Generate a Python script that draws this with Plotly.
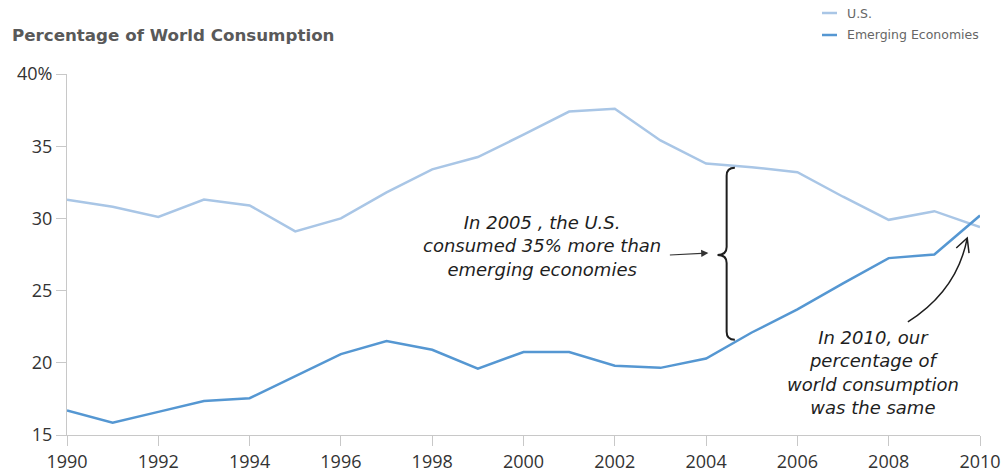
import plotly.graph_objects as go

# ---- data ----
years = list(range(1990, 2011))
us_share = [31.3, 30.8, 30.1, 31.3, 30.9, 29.1, 30.0, 31.8, 33.4, 34.25, 35.8,
            37.4, 37.6, 35.4, 33.8, 33.55, 33.2, 31.5, 29.9, 30.5, 29.4]
emerging_share = [16.7, 15.85, 16.6, 17.35, 17.55, 19.1, 20.6, 21.5, 20.9, 19.6, 20.75,
                  20.75, 19.8, 19.65, 20.3, 22.1, 23.7, 25.5, 27.25, 27.5, 30.2]
series_names = ["U.S.", "Emerging Economies"]
x_ticks = list(range(1990, 2011, 2))
y_ticks = [15, 20, 25, 30, 35, 40]
y_tick_text = ["15", "20", "25", "30", "35", "40%"]

# ---- layout constants (pixels) ----
W, H = 1002, 473
PL, PR, PT, PB = 67, 980, 74, 435

US_COLOR = "#a9c6e6"
EM_COLOR = "#5597d2"
AXIS_COLOR = "#c8c8c8"
INK = "#1e1e1e"
HAND = dict(family="DejaVu Sans, sans-serif", size=18, color=INK, style="italic")


def px_to_paper(px, py):
    return (px - PL) / (PR - PL), (PB - py) / (PB - PT)


fig = go.Figure()
fig.add_trace(go.Scatter(x=years, y=us_share, mode="lines", name=series_names[0],
                         line=dict(color=US_COLOR, width=2.5), cliponaxis=False))
fig.add_trace(go.Scatter(x=years, y=emerging_share, mode="lines", name=series_names[1],
                         line=dict(color=EM_COLOR, width=2.5), cliponaxis=False))

shapes = []
annotations = []

# title
tx, ty = px_to_paper(10, 35)
annotations.append(dict(xref="paper", yref="paper", x=tx, y=ty, xanchor="left", yanchor="middle",
                        text="<b>Percentage of World Consumption</b>", showarrow=False,
                        font=dict(family="DejaVu Sans, Verdana, sans-serif", size=16.7, color="#595959")))

# legend drawn by hand at the top right
for i, (name, col) in enumerate(zip(series_names, [US_COLOR, EM_COLOR])):
    py = 13 + i * 22
    x0, y0 = px_to_paper(822, py)
    x1, _ = px_to_paper(837, py)
    shapes.append(dict(type="line", xref="paper", yref="paper", x0=x0, x1=x1, y0=y0, y1=y0,
                       line=dict(color=col, width=2.5)))
    lx, ly = px_to_paper(845, py)
    annotations.append(dict(xref="paper", yref="paper", x=lx, y=ly, xanchor="left", yanchor="middle",
                            text=name, showarrow=False,
                            font=dict(family="DejaVu Sans, Verdana, sans-serif", size=12.5, color="#666666")))

# brace spanning the 2005 gap
bx1, bx0, bxm = 2004.63, 2004.45, 2004.25
top, bot, mid, d = 33.5, 21.6, 27.47, 0.55
brace = (f"M {bx1},{top} Q {bx0},{top} {bx0},{top - d} L {bx0},{mid + d} "
         f"Q {bx0},{mid} {bxm},{mid} Q {bx0},{mid} {bx0},{mid - d} "
         f"L {bx0},{bot + d} Q {bx0},{bot} {bx1},{bot}")
shapes.append(dict(type="path", xref="x", yref="y", path=brace, line=dict(color=INK, width=2)))

# first note with arrow pointing to the brace
annotations.append(dict(xref="x", yref="y", x=2004.05, y=27.6, ax=-40, ay=2,
                        axref="pixel", ayref="pixel", text="", showarrow=True,
                        arrowhead=2, arrowsize=1.2, arrowwidth=1.2, arrowcolor="#333333"))
annotations.append(dict(xref="x", yref="y", x=2000.4, y=28.1, xanchor="center", yanchor="middle",
                        text="In 2005 , the U.S.<br>consumed 35% more than<br>emerging economies",
                        showarrow=False, font=HAND, align="center"))

# second note with curved arrow to the 2010 crossing
shapes.append(dict(type="path", xref="x", yref="y",
                   path="M 2008.42,22.83 Q 2009.5,25.0 2009.72,28.64",
                   line=dict(color=INK, width=1.5)))
shapes.append(dict(type="path", xref="x", yref="y",
                   path="M 2009.48,27.95 L 2009.72,28.64 L 2009.76,27.6",
                   line=dict(color=INK, width=1.5)))
annotations.append(dict(xref="x", yref="y", x=2007.65, y=19.3, xanchor="center", yanchor="middle",
                        text="In 2010, our<br>percentage of<br>world consumption<br>was the same",
                        showarrow=False, font=HAND, align="center"))

fig.update_layout(
    width=W, height=H,
    margin=dict(l=PL, r=W - PR, t=PT, b=H - PB, pad=0, autoexpand=False),
    paper_bgcolor="white", plot_bgcolor="white",
    showlegend=False,
    shapes=shapes, annotations=annotations,
    font=dict(family="Open Sans, sans-serif", size=18, color="#333333"),
)
fig.update_xaxes(range=[1990, 2010], tickvals=x_ticks, ticks="outside", ticklen=10,
                 tickcolor=AXIS_COLOR, tickwidth=1, showline=True, linecolor=AXIS_COLOR, linewidth=1,
                 showgrid=False, zeroline=False, automargin=False, tickfont=dict(size=18))
fig.update_yaxes(range=[15, 40], tickvals=y_ticks, ticktext=y_tick_text, ticks="outside",
                 ticklen=10, tickcolor=AXIS_COLOR, tickwidth=1, showline=True, linecolor=AXIS_COLOR,
                 linewidth=1, showgrid=False, zeroline=False, automargin=False, tickfont=dict(size=18))

fig.write_html("out.html")
